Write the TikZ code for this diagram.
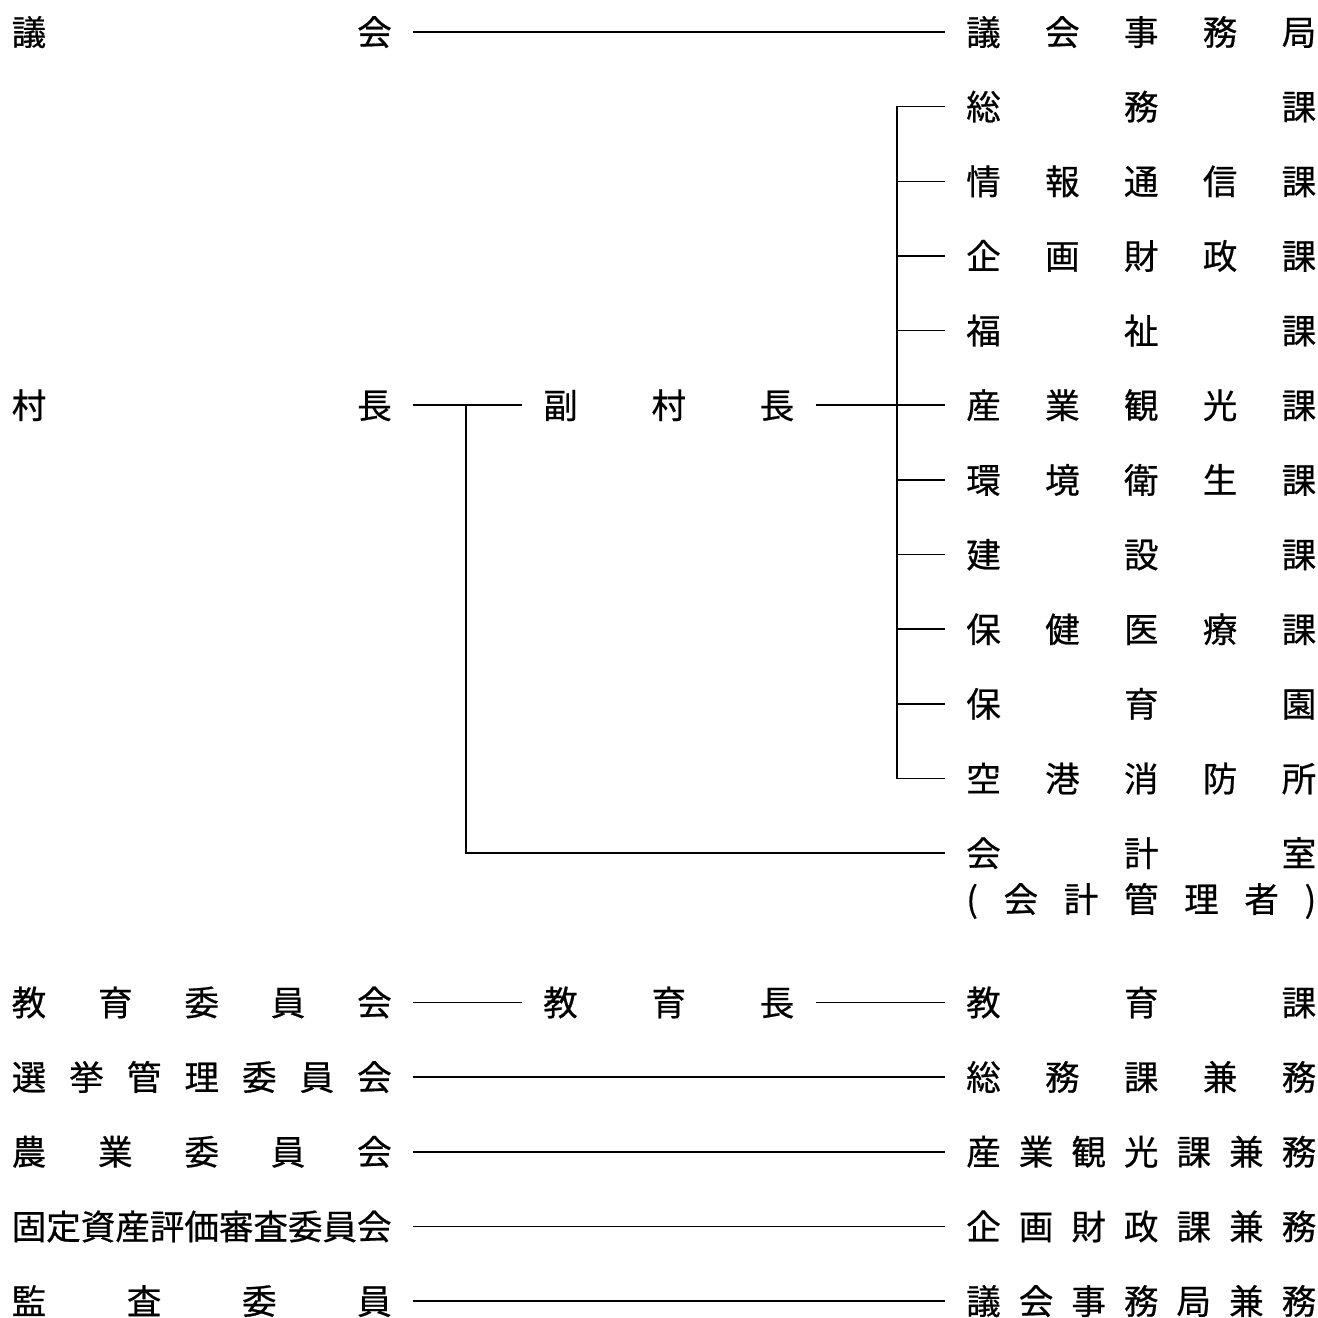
\documentclass[tikz,border=0pt]{standalone}
\usepackage{fontspec}
\setmainfont[FakeBold=0.6]{Noto Sans CJK JP}
\newcommand{\lefttext}[1]{\makebox[285pt][s]{#1}}
\newcommand{\midtext}[1]{\makebox[188.25pt][s]{#1}}
\newcommand{\righttext}[1]{\makebox[262.5pt][s]{#1}}

\begin{document}
\begin{tikzpicture}[x=0.75pt, y=-0.75pt,
    unit/.style={inner xsep=15.75pt, inner ysep=0pt, text height=22.8pt, text depth=3.1pt,
                 font=\fontsize{25.9pt}{31pt}\selectfont},
    lcol/.style={unit, anchor=east},
    mcol/.style={unit, anchor=west},
    rcol/.style={unit, anchor=west},
    link/.style={draw, line width=1.2pt}]
    \useasboundingbox (0,0) rectangle (1318,1318);

    \node[lcol] (gikai)  at (413,32)     {\lefttext{議 会}};
    \node[lcol] (soncho) at (413,405.2)  {\lefttext{村 長}};
    \node[lcol] (kyoi)   at (413,1002.4) {\lefttext{教 育 委 員 会}};
    \node[lcol] (senkan) at (413,1077)   {\lefttext{選 挙 管 理 委 員 会}};
    \node[lcol] (nogyo)  at (413,1151.7) {\lefttext{農 業 委 員 会}};
    \node[lcol] (kotei)  at (413,1226.4) {\lefttext{固定資産評価審査委員会}};
    \node[lcol] (kansa)  at (413,1301)   {\lefttext{監 査 委 員}};

    \node[mcol] (fuku)      at (522,405.2)  {\midtext{副 村 長}};
    \node[mcol] (kyoikucho) at (522,1002.4) {\midtext{教 育 長}};

    \node[rcol] (jimukyoku) at (945,32)     {\righttext{議 会 事 務 局}};
    \node[rcol] (somu)      at (945,106.6)  {\righttext{総 務 課}};
    \node[rcol] (joho)      at (945,181.3)  {\righttext{情 報 通 信 課}};
    \node[rcol] (kikaku)    at (945,255.9)  {\righttext{企 画 財 政 課}};
    \node[rcol] (fukushi)   at (945,330.6)  {\righttext{福 祉 課}};
    \node[rcol] (sangyo)    at (945,405.2)  {\righttext{産 業 観 光 課}};
    \node[rcol] (kankyo)    at (945,479.9)  {\righttext{環 境 衛 生 課}};
    \node[rcol] (kensetsu)  at (945,554.5)  {\righttext{建 設 課}};
    \node[rcol] (hoken)     at (945,629.2)  {\righttext{保 健 医 療 課}};
    \node[rcol] (hoiku)     at (945,703.8)  {\righttext{保 育 園}};
    \node[rcol] (kuko)      at (945,778.5)  {\righttext{空 港 消 防 所}};
    \node[rcol] (kaikei)    at (945,853.1)  {\righttext{会 計 室}};
    \node[rcol] (kanrisha)  at (945,899)    {\righttext{( 会 計 管 理 者 )}};
    \node[rcol] (kyoikuka)  at (945,1002.4) {\righttext{教 育 課}};
    \node[rcol] (somuken)   at (945,1077)   {\righttext{総 務 課 兼 務}};
    \node[rcol] (sangyoken) at (945,1151.7) {\righttext{産 業 観 光 課 兼 務}};
    \node[rcol] (kikakuken) at (945,1226.4) {\righttext{企 画 財 政 課 兼 務}};
    \node[rcol] (gikaiken)  at (945,1301)   {\righttext{議 会 事 務 局 兼 務}};

    \coordinate (bus) at (897,0);
    \coordinate (tap) at (466,0);

    \draw[link] (gikai.east) -- (jimukyoku.west);
    \draw[link] (soncho.east) -- (fuku.west);
    \draw[link] (fuku.east) -- (sangyo.west);
    \draw[link] (soncho.east -| tap) |- (kaikei.west);

    \draw[link] (somu.west) -- (somu.west -| bus) -- (kuko.west -| bus) -- (kuko.west);
    \draw[link] (joho.west) -- (joho.west -| bus);
    \draw[link] (kikaku.west) -- (kikaku.west -| bus);
    \draw[link] (fukushi.west) -- (fukushi.west -| bus);
    \draw[link] (kankyo.west) -- (kankyo.west -| bus);
    \draw[link] (kensetsu.west) -- (kensetsu.west -| bus);
    \draw[link] (hoken.west) -- (hoken.west -| bus);
    \draw[link] (hoiku.west) -- (hoiku.west -| bus);

    \draw[link] (kyoi.east) -- (kyoikucho.west);
    \draw[link] (kyoikucho.east) -- (kyoikuka.west);
    \draw[link] (senkan.east) -- (somuken.west);
    \draw[link] (nogyo.east) -- (sangyoken.west);
    \draw[link] (kotei.east) -- (kikakuken.west);
    \draw[link] (kansa.east) -- (gikaiken.west);
\end{tikzpicture}
\end{document}
